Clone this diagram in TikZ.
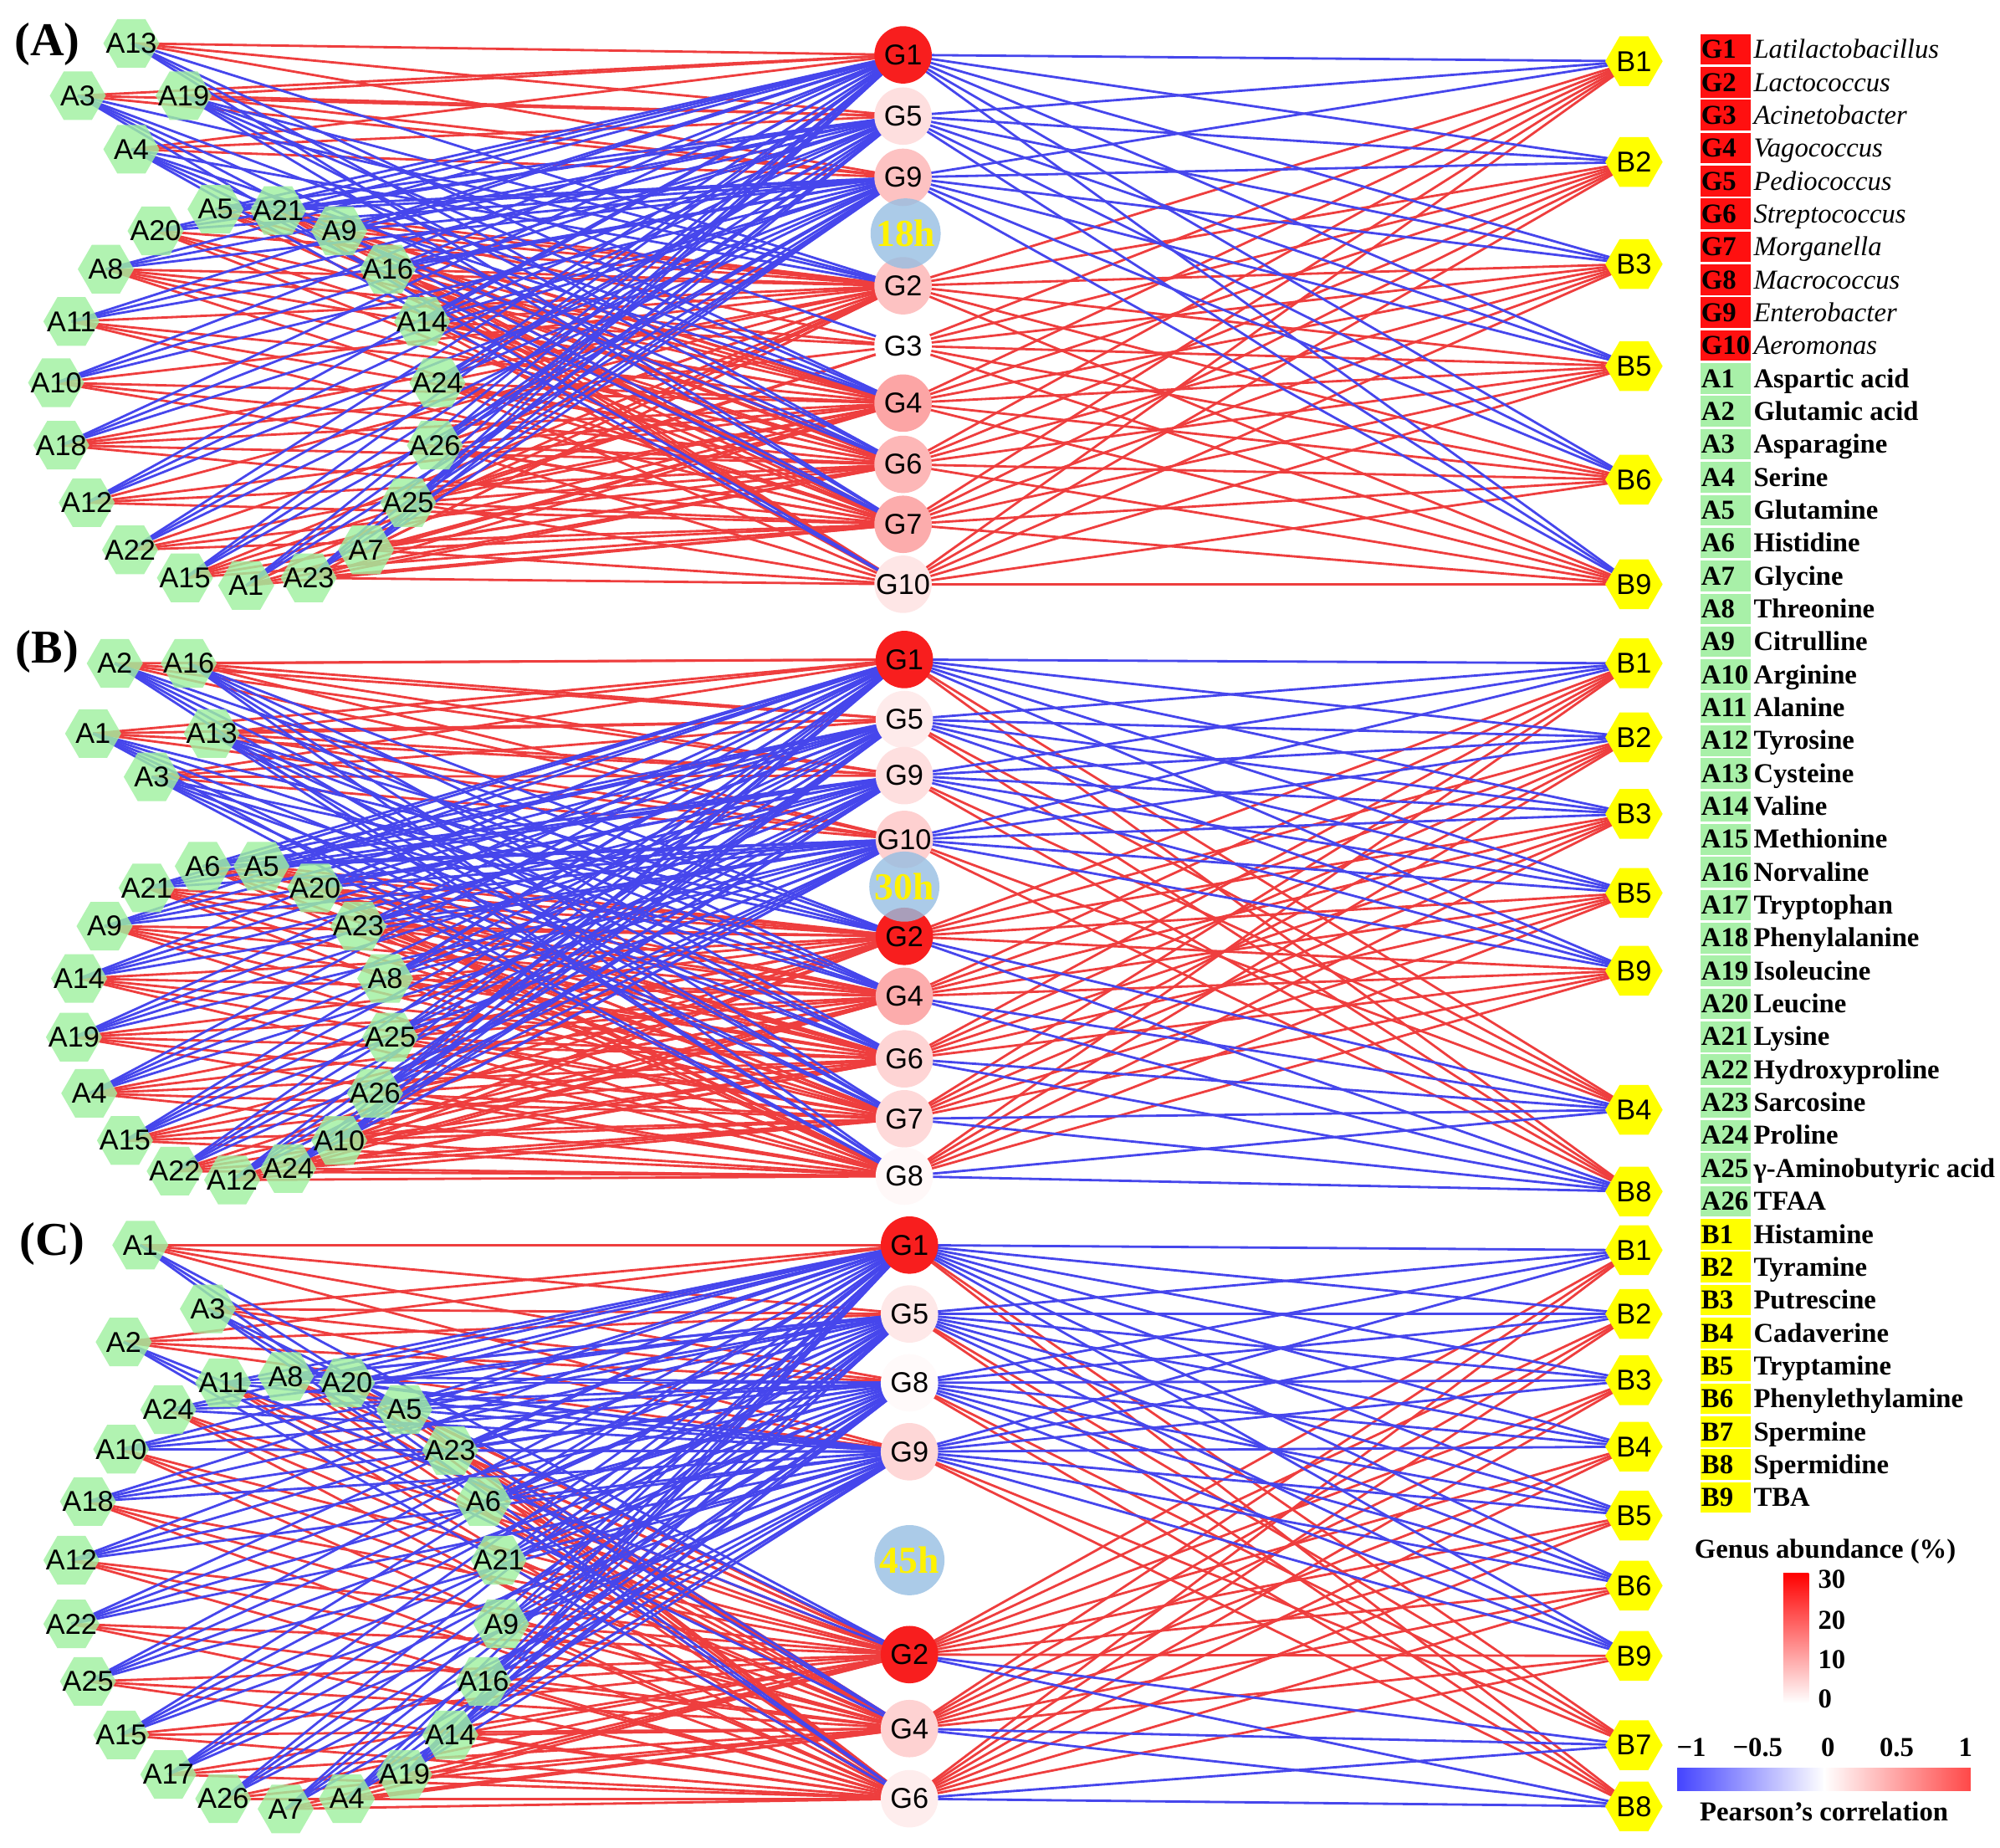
\documentclass[tikz,border=0pt]{standalone}
\usepackage{fontspec}
\setmainfont{Liberation Serif}
\setsansfont{Liberation Sans}
\usetikzlibrary{shapes.geometric}
\pgfdeclarelayer{edgelayer}
\pgfsetlayers{edgelayer,main}
\definecolor{ered}{RGB}{238,62,62}
\definecolor{eblue}{RGB}{70,70,236}
\definecolor{hexgreen}{RGB}{160,240,160}
\definecolor{hexyellow}{RGB}{255,255,0}
\definecolor{timeblue}{RGB}{150,190,226}
\definecolor{gred}{RGB}{248,30,30}
\definecolor{legred}{RGB}{255,16,16}
\definecolor{leggreen}{RGB}{168,240,168}
\definecolor{legyellow}{RGB}{255,255,0}
\definecolor{cbblue}{RGB}{68,68,255}
\definecolor{cbred}{RGB}{255,72,72}
\definecolor{cbgred}{RGB}{255,0,0}
\tikzset{
  hexbase/.style={regular polygon, regular polygon sides=6, inner sep=0pt, outer sep=0pt, draw=none, text opacity=1, font=\sffamily\fontsize{12.8}{14}\selectfont},
  anode/.style={hexbase, minimum size=0.88cm, fill=hexgreen, fill opacity=0.82},
  bnode/.style={hexbase, minimum size=0.9cm, fill=hexyellow},
  gnode/.style={circle, minimum size=0.9cm, inner sep=0pt, draw=none, font=\sffamily\fontsize{12.8}{14}\selectfont},
  tnode/.style={circle, minimum size=1.1cm, inner sep=0pt, fill=timeblue, fill opacity=0.8, text opacity=1, text=yellow, font=\bfseries\fontsize{17}{18}\selectfont},
  lnk/.style={line width=1.05pt},
  plabel/.style={font=\bfseries\fontsize{21}{22}\selectfont, inner sep=0pt},
  legbox/.style={rectangle, minimum width=0.79cm, minimum height=0.48cm, inner sep=0pt, draw=none},
  legtxt/.style={anchor=base west, inner sep=0pt, font=\fontsize{12.2}{13}\selectfont},
  cbtxt/.style={inner sep=0pt, font=\bfseries\fontsize{12.2}{13}\selectfont},
}
\newcommand{\drawpanel}[6]{%
  \foreach \n/\x/\y/\sa in #4 {\node[anode] (p#1-\n) at (\x,\y) {\makebox[0pt]{\n}};}
  \foreach \g/\gy/\gs/\gp/\ev in #5 {\node[gnode, fill=gred!\gp!white] (p#1-\g) at (#2,\gy) {\makebox[0pt]{\g}};}
  \foreach \b/\by/\bs in #6 {\node[bnode] (p#1-\b) at (#3,\by) {\makebox[0pt]{\b}};}
  \begin{pgfonlayer}{edgelayer}
  \foreach \col/\want in {ered/1,eblue/-1}{
    \foreach \n/\x/\y/\sa [count=\i] in #4 {
      \foreach \g/\gy/\gs/\gp/\ev in #5 {
        \pgfmathtruncatemacro{\ep}{(\sa)*(\gs)}
        \pgfmathtruncatemacro{\ek}{mod(\i,\ev)==0}
        \ifnum\ep=\want\relax\ifnum\ek=1\relax
          \draw[lnk,\col] (p#1-\n.center) -- (p#1-\g.center);
        \fi\fi
      }
    }
    \foreach \g/\gy/\gs/\gp/\ev in #5 {
      \foreach \b/\by/\bs in #6 {
        \pgfmathtruncatemacro{\ep}{(\gs)*(\bs)}
        \ifnum\ep=\want\relax
          \draw[lnk,\col] (p#1-\g.center) -- (p#1-\b.center);
        \fi
      }
    }
  }
  \end{pgfonlayer}
}
\def\AlistA{A13/103/34/-1, A3/61/75/-1, A19/144/75/-1, A4/103/117/-1, A5/169/164/1, A21/218/165/1, A20/122/181/1, A9/266/181/1, A8/83/211/1, A16/304/211/1, A11/56/252/1, A14/331/252/1, A10/44/300/1, A24/343/300/1, A18/48/349/1, A26/341/349/1, A12/68/394/1, A25/320/394/1, A22/102/431/1, A7/287/431/1, A15/145/453/1, A23/242/453/1, A1/193/459/1}
\def\GlistA{G1/43/-1/100/1, G5/91/-1/14/1, G9/139/-1/27/1, G2/224/1/27/1, G3/271/1/0/3, G4/316/1/40/1, G6/364/1/32/1, G7/411/1/37/1, G10/458/1/11/2}
\def\BlistA{B1/48/1, B2/127/1, B3/207/1, B5/287/1, B6/376/1, B9/458/1}
\def\AlistB{A2/90/520/-1, A16/148/520/-1, A1/73/575/-1, A13/166/575/-1, A3/119/609/-1, A6/159/679/1, A5/205/679/1, A21/115/696/1, A20/247/696/1, A9/82/726/1, A23/281/726/1, A14/62/767/1, A8/302/767/1, A19/58/813/1, A25/306/813/1, A4/70/857/1, A26/294/857/1, A15/98/894/1, A10/266/894/1, A22/137/918/1, A24/226/916/1, A12/182/925/1}
\def\GlistB{G1/517/-1/100/1, G5/564/-1/9/1, G9/608/-1/14/1, G10/658/-1/21/1, G2/734/1/100/1, G4/781/1/37/1, G6/830/1/19/1, G7/877/1/17/1, G8/922/1/3/1}
\def\BlistB{B1/520/1, B2/578/1, B3/638/1, B5/700/1, B9/761/1, B4/870/-1, B8/934/-1}
\def\AlistC{A1/110/976/-1, A3/163/1026/-1, A2/97/1052/-1, A11/175/1084/1, A8/224/1079/1, A20/272/1084/1, A24/132/1105/1, A5/317/1105/1, A10/95/1136/1, A23/353/1137/1, A18/69/1177/1, A6/379/1177/1, A12/56/1223/1, A21/391/1223/1, A22/56/1273/1, A9/393/1273/1, A25/69/1318/1, A16/379/1318/1, A15/95/1360/1, A14/353/1360/1, A17/132/1391/1, A19/317/1391/1, A26/175/1410/1, A4/272/1410/1, A7/224/1418/1}
\def\GlistC{G1/976/-1/100/1, G5/1030/-1/10/1, G8/1084/-1/2/1, G9/1138/-1/18/1, G2/1297/1/100/1, G4/1355/1/20/1, G6/1410/1/8/1}
\def\BlistC{B1/980/1, B2/1030/1, B3/1082/1, B4/1134/1, B5/1188/1, B6/1243/1, B9/1298/1, B7/1368/-1, B8/1416/-1}
\begin{document}
\begin{tikzpicture}[x=0.02cm, y=-0.02cm]
\useasboundingbox (0,0) rectangle (1568,1448);
% panels
\drawpanel{A}{708}{1281}{\AlistA}{\GlistA}{\BlistA}
\drawpanel{B}{709}{1281}{\AlistB}{\GlistB}{\BlistB}
\drawpanel{C}{713}{1281}{\AlistC}{\GlistC}{\BlistC}
% time bubbles
\node[tnode] (tA) at (710,183) {18h};
\node[tnode] (tB) at (709,695) {30h};
\node[tnode] (tC) at (713,1223) {45h};
% panel labels
\node[plabel] (labA) at (37,35) {(A)};
\node[plabel] (labB) at (37,511) {(B)};
\node[plabel] (labC) at (41,975) {(C)};
% legend: genera
\foreach \lab/\name [count=\k from 0] in {G1/Latilactobacillus, G2/Lactococcus, G3/Acinetobacter, G4/Vagococcus, G5/Pediococcus, G6/Streptococcus, G7/Morganella, G8/Macrococcus, G9/Enterobacter, G10/Aeromonas} {
  \pgfmathsetmacro{\ly}{38.7+25.8*\k}
  \node[legbox, fill=legred] (lb-\lab) at (1352.7,\ly) {};
  \node[legtxt] (ll-\lab) at (1333.5,{\ly+7}) {\bfseries\lab};
  \node[legtxt] (ln-\lab) at (1374.5,{\ly+7}) {\itshape\name};
}
\foreach \lab/\name [count=\k from 10] in {A1/Aspartic acid, A2/Glutamic acid, A3/Asparagine, A4/Serine, A5/Glutamine, A6/Histidine, A7/Glycine, A8/Threonine, A9/Citrulline, A10/Arginine, A11/Alanine, A12/Tyrosine, A13/Cysteine, A14/Valine, A15/Methionine, A16/Norvaline, A17/Tryptophan, A18/Phenylalanine, A19/Isoleucine, A20/Leucine, A21/Lysine, A22/Hydroxyproline, A23/Sarcosine, A24/Proline, A25/γ-Aminobutyric acid, A26/TFAA} {
  \pgfmathsetmacro{\ly}{38.7+25.8*\k}
  \node[legbox, fill=leggreen] (lb-\lab) at (1352.7,\ly) {};
  \node[legtxt] (ll-\lab) at (1333.5,{\ly+7}) {\bfseries\lab};
  \node[legtxt] (ln-\lab) at (1374.5,{\ly+7}) {\bfseries\name};
}
\foreach \lab/\name [count=\k from 36] in {B1/Histamine, B2/Tyramine, B3/Putrescine, B4/Cadaverine, B5/Tryptamine, B6/Phenylethylamine, B7/Spermine, B8/Spermidine, B9/TBA} {
  \pgfmathsetmacro{\ly}{38.7+25.8*\k}
  \node[legbox, fill=legyellow] (lb-\lab) at (1352.7,\ly) {};
  \node[legtxt] (ll-\lab) at (1333.5,{\ly+7}) {\bfseries\lab};
  \node[legtxt] (ln-\lab) at (1374.5,{\ly+7}) {\bfseries\name};
}
% genus abundance colour bar
\node[cbtxt] (gtitle) at (1431,1216) {Genus abundance (\%)};
\shade[bottom color=white, top color=cbgred] (1398,1233) rectangle (1418,1335);
\node[cbtxt, anchor=base west] (g30) at (1425,1245) {30};
\node[cbtxt, anchor=base west] (g20) at (1425,1277) {20};
\node[cbtxt, anchor=base west] (g10) at (1425,1308) {10};
\node[cbtxt, anchor=base west] (g0) at (1425,1339) {0};
% Pearson colour bar
\shade[left color=cbblue, right color=white] (1315,1386) rectangle (1430.5,1404);
\shade[left color=white, right color=cbred] (1430,1386) rectangle (1545,1404);
\node[cbtxt] (pm1) at (1326,1370) {−1};
\node[cbtxt] (pm05) at (1378,1370) {−0.5};
\node[cbtxt] (p0) at (1433,1370) {0};
\node[cbtxt] (p05) at (1487,1370) {0.5};
\node[cbtxt] (p1) at (1541,1370) {1};
\node[cbtxt] (ptitle) at (1430,1420) {Pearson’s correlation};
\end{tikzpicture}
\end{document}
